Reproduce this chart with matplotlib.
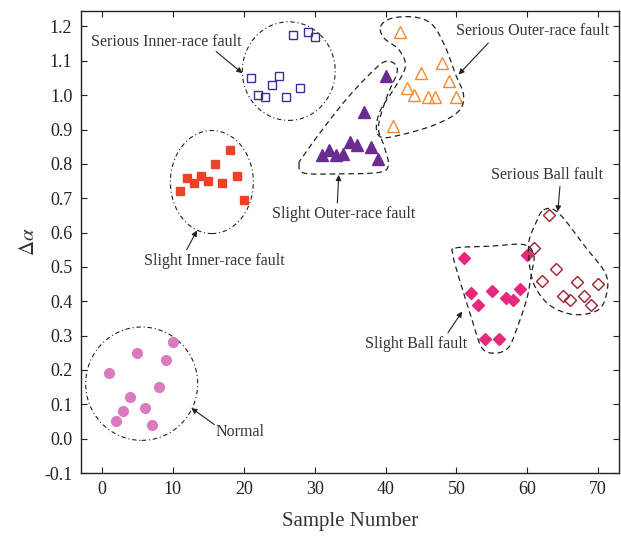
import numpy as np
import matplotlib
matplotlib.use("Agg")
import matplotlib.pyplot as plt
from matplotlib.patches import Ellipse

plt.rcParams['font.family'] = ['Liberation Serif', 'DejaVu Serif']
plt.rcParams['mathtext.fontset'] = 'stix'
plt.rcParams['axes.unicode_minus'] = False

# ---- data ----
normal_x = [1, 2, 3, 4, 5, 6, 7, 8, 9, 10]
normal_y = [0.19, 0.05, 0.08, 0.12, 0.25, 0.09, 0.04, 0.15, 0.23, 0.28]

slight_inner_x = [11, 12, 13, 14, 15, 16, 17, 18, 19, 20]
slight_inner_y = [0.72, 0.76, 0.745, 0.765, 0.75, 0.80, 0.745, 0.84, 0.765, 0.695]

serious_inner_x = [21, 22, 23, 24, 25, 26, 27, 28, 29, 30]
serious_inner_y = [1.05, 1.00, 0.995, 1.03, 1.055, 0.995, 1.175, 1.02, 1.185, 1.17]

slight_outer_x = [31, 32, 33, 34, 35, 36, 37, 38, 39, 40]
slight_outer_y = [0.825, 0.84, 0.825, 0.83, 0.865, 0.855, 0.95, 0.85, 0.815, 1.055]

serious_outer_x = [41, 42, 43, 44, 45, 46, 47, 48, 49, 50]
serious_outer_y = [0.91, 1.185, 1.02, 1.00, 1.065, 0.995, 0.995, 1.095, 1.04, 0.995]

slight_ball_x = [51, 52, 53, 54, 55, 56, 57, 58, 59, 60]
slight_ball_y = [0.525, 0.425, 0.39, 0.29, 0.43, 0.29, 0.41, 0.405, 0.435, 0.535]

serious_ball_x = [61, 62, 63, 64, 65, 66, 67, 68, 69, 70]
serious_ball_y = [0.555, 0.46, 0.65, 0.495, 0.415, 0.405, 0.455, 0.415, 0.39, 0.45]

x_ticks = [0, 10, 20, 30, 40, 50, 60, 70]
y_ticks = [-0.1, 0.0, 0.1, 0.2, 0.3, 0.4, 0.5, 0.6, 0.7, 0.8, 0.9, 1.0, 1.1, 1.2]


def closed_spline(pts, n=30):
    pts = np.asarray(pts, float)
    m = len(pts)
    out = []
    for i in range(m):
        p0, p1, p2, p3 = pts[(i - 1) % m], pts[i], pts[(i + 1) % m], pts[(i + 2) % m]
        t = np.linspace(0, 1, n, endpoint=False)[:, None]
        seg = 0.5 * ((2 * p1) + (-p0 + p2) * t + (2 * p0 - 5 * p1 + 4 * p2 - p3) * t ** 2
                     + (-p0 + 3 * p1 - 3 * p2 + p3) * t ** 3)
        out.append(seg)
    out = np.vstack(out)
    return np.vstack([out, out[:1]])


fig = plt.figure(figsize=(6.21, 5.36), dpi=100)
ax = fig.add_axes([80.7 / 621, 1 - 473 / 536, (619.5 - 80.7) / 621, (473 - 11) / 536])

ax.plot(normal_x, normal_y, 'o', ms=7, color='#D97BBE', mec='#D97BBE', ls='none')
ax.plot(slight_inner_x, slight_inner_y, 's', ms=6, color='#EF4127', mec='#EF4127', ls='none')
ax.plot(serious_inner_x, serious_inner_y, 's', ms=5.5, mfc='none', mec='#3D2F98', mew=1.0, ls='none')
ax.plot(slight_outer_x, slight_outer_y, '^', ms=8, color='#6A2D8F', mec='#6A2D8F', ls='none')
ax.plot(serious_outer_x, serious_outer_y, '^', ms=8, mfc='none', mec='#F58A2E', mew=1.0, ls='none')
ax.plot(slight_ball_x, slight_ball_y, 'D', ms=6.5, color='#E5287C', mec='#E5287C', ls='none')
ax.plot(serious_ball_x, serious_ball_y, 'D', ms=6, mfc='none', mec='#A11F2B', mew=1.0, ls='none')

dashdot = (0, (4, 2.5, 1, 2.5))
dashed = (0, (4.5, 3))

# ellipses
ax.add_patch(Ellipse((5.6, 0.16), 15.8, 0.33, fill=False, ls=dashdot, lw=0.8, ec='#222222'))
ax.add_patch(Ellipse((15.5, 0.747), 11.7, 0.30, fill=False, ls=dashdot, lw=0.8, ec='#222222'))
ax.add_patch(Ellipse((26.35, 1.07), 13.1, 0.287, fill=False, ls=dashdot, lw=0.8, ec='#222222'))

# free-form regions
slight_outer_shape = [(27.8, 0.80), (28.5, 0.773), (33.4, 0.771), (39.06, 0.775), (40.4, 0.797),
                      (39.8, 0.851), (39.0, 0.909), (40.2, 0.996), (41.6, 1.064), (41.3, 1.091),
                      (40.0, 1.098), (38.4, 1.074), (34.8, 0.996), (31.1, 0.90), (28.3, 0.82)]
serious_outer_shape = [(39.3, 1.20), (40.9, 1.224), (44.2, 1.227), (46.6, 1.205), (48.4, 1.142),
                       (49.8, 1.064), (51.0, 1.001), (50.3, 0.953), (47.0, 0.914), (42.3, 0.885),
                       (39.5, 0.877), (38.7, 0.904), (39.3, 0.957), (41.4, 1.025), (42.8, 1.084),
                       (41.9, 1.132), (39.8, 1.166)]
slight_ball_shape = [(49.85, 0.555), (54.5, 0.56), (59.45, 0.565), (60.9, 0.535), (60.6, 0.482),
                     (59.9, 0.405), (58.3, 0.308), (57.3, 0.264), (55.5, 0.249), (53.6, 0.264),
                     (52.2, 0.346), (50.3, 0.472), (49.5, 0.535)]
serious_ball_shape = [(62.3, 0.666), (64.4, 0.657), (68.1, 0.56), (71.0, 0.482), (71.2, 0.424),
                      (70.0, 0.375), (66.7, 0.361), (63.4, 0.385), (61.3, 0.434), (60.4, 0.492),
                      (60.2, 0.57), (61.1, 0.623)]
for shp in [slight_outer_shape, serious_outer_shape, slight_ball_shape, serious_ball_shape]:
    c = closed_spline(shp)
    ax.plot(c[:, 0], c[:, 1], ls=dashed, lw=0.9, color='#222222')

# annotations
ap = dict(arrowstyle='-|>', color='#222222', lw=0.8, mutation_scale=8, shrinkA=0, shrinkB=0)
fs = 11.5
tc = '#333333'
ax.annotate('', xy=(19.8, 1.064), xytext=(16.1, 1.127), arrowprops=ap)
ax.text(-1.5, 1.155, 'Serious Inner-race fault', fontsize=fs, ha='left', va='center', color=tc)
ax.annotate('', xy=(13.4, 0.606), xytext=(11.95, 0.55), arrowprops=ap)
ax.text(15.9, 0.516, 'Slight Inner-race fault', fontsize=fs, ha='center', va='center', color=tc)
ax.annotate('', xy=(33.4, 0.768), xytext=(33.2, 0.686), arrowprops=ap)
ax.text(34.1, 0.655, 'Slight Outer-race fault', fontsize=fs, ha='center', va='center', color=tc)
ax.annotate('', xy=(50.3, 1.06), xytext=(54.5, 1.152), arrowprops=ap)
ax.text(60.7, 1.187, 'Serious Outer-race fault', fontsize=fs, ha='center', va='center', color=tc)
ax.annotate('', xy=(64.3, 0.661), xytext=(64.6, 0.734), arrowprops=ap)
ax.text(62.8, 0.768, 'Serious Ball fault', fontsize=fs, ha='center', va='center', color=tc)
ax.annotate('', xy=(50.8, 0.37), xytext=(48.8, 0.308), arrowprops=ap)
ax.text(44.3, 0.276, 'Slight Ball fault', fontsize=fs, ha='center', va='center', color=tc)
ax.annotate('', xy=(12.6, 0.089), xytext=(15.85, 0.041), arrowprops=ap)
ax.text(16.0, 0.0195, 'Normal', fontsize=fs, ha='left', va='center', color=tc)

ax.set_xlim(-3, 73)
ax.set_ylim(-0.1, 1.245)
ax.set_xticks(x_ticks)
ax.set_yticks(y_ticks)
ax.set_yticklabels(['%.1f' % v for v in y_ticks])
ax.tick_params(direction='in', top=True, right=True, length=4, width=0.8, labelsize=13,
               colors='#222222', pad=6)
for s in ax.spines.values():
    s.set_linewidth(1.0)
    s.set_color('#222222')
ax.set_xlabel('Sample Number', fontsize=15, color='#333333', labelpad=10)
ax.set_ylabel(r'$\Delta\alpha$', fontsize=15, color='#333333', labelpad=4)

fig.savefig('out.png', dpi=100)
